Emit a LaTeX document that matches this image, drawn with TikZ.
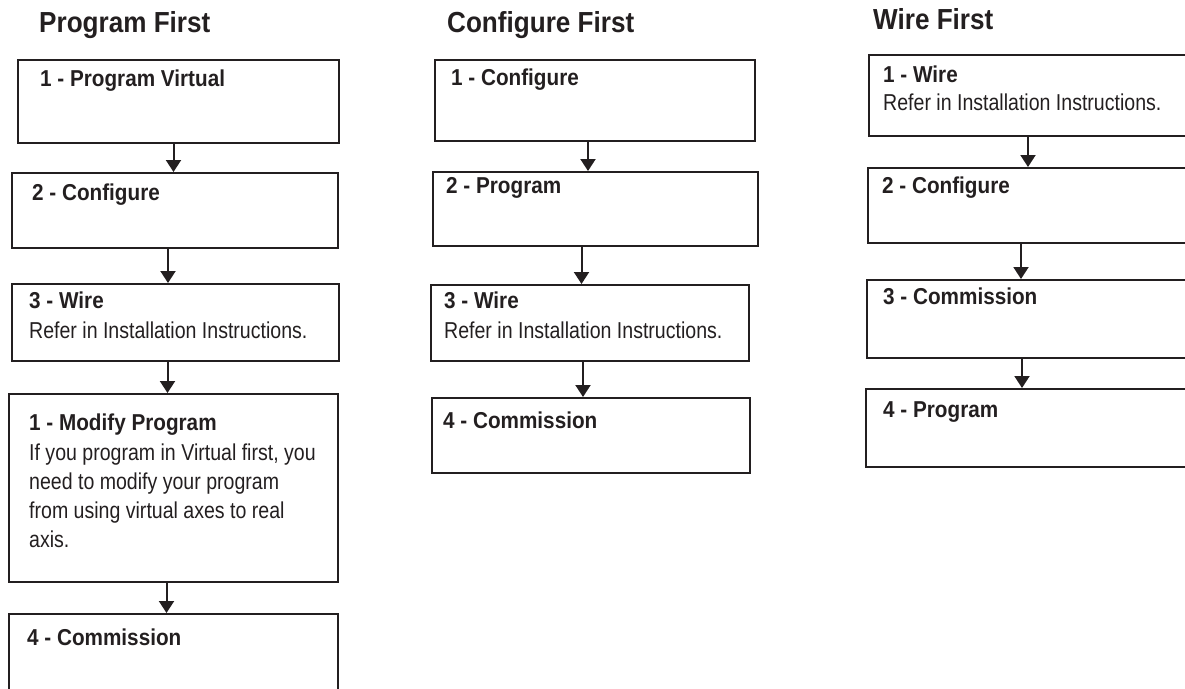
\documentclass[tikz,border=0pt]{standalone}
\usepackage{fontspec}
\setmainfont{Liberation Sans}[FakeStretch=0.85, BoldFeatures={FakeStretch=0.9}]
\usetikzlibrary{arrows.meta}
\definecolor{inkblack}{HTML}{231F20}

\tikzset{
  stepbox/.style={draw=inkblack, line width=2pt, anchor=north west, inner sep=0pt},
  steptitle/.style={anchor=base west, inner sep=0pt, text=inkblack,
    font=\fontsize{23}{27}\selectfont\bfseries},
  stepnote/.style={anchor=base west, inner sep=0pt, align=left, text=inkblack,
    font=\fontsize{23}{29}\selectfont},
  coltitle/.style={anchor=base west, inner sep=0pt, text=inkblack,
    font=\fontsize{29}{33}\selectfont\bfseries},
  flow/.style={-{Triangle[width=15pt,length=12pt]}, line width=2pt, draw=inkblack},
}

\begin{document}
\begin{tikzpicture}[x=1pt,y=-1pt]
  \useasboundingbox (0,0) rectangle (1185,688);

  % column headings
  \node[coltitle] (progfirst) at (39,32) {Program First};
  \node[coltitle] (conffirst) at (447,32) {Configure First};
  \node[coltitle] (wirefirst) at (873,29) {Wire First};

  % Program First
  \node[stepbox, minimum width=321, minimum height=83] (a1) at (17,59) {};
  \node[stepbox, minimum width=326, minimum height=75] (a2) at (11,172) {};
  \node[stepbox, minimum width=327, minimum height=77] (a3) at (11,283) {};
  \node[stepbox, minimum width=329, minimum height=188] (a4) at (8,393) {};
  \node[stepbox, minimum width=329, minimum height=90] (a5) at (8,613) {};
  \node[steptitle] (a1t) at ([shift={(23,27)}]a1.north west) {1 - Program Virtual};
  \node[steptitle] (a2t) at ([shift={(21,28)}]a2.north west) {2 - Configure};
  \node[steptitle] (a3t) at ([shift={(18,25)}]a3.north west) {3 - Wire};
  \node[stepnote] (a3n) at ([shift={(18,55)}]a3.north west) {Refer in Installation Instructions.};
  \node[steptitle] (a4t) at ([shift={(21,37)}]a4.north west) {1 - Modify Program};
  \node[stepnote] (a4n) at ([shift={(21,67)}]a4.north west)
    {\parbox[t]{310pt}{If you program in Virtual first, you\\need to modify your program\\from using virtual axes to real\\axis.}};
  \node[steptitle] (a5t) at ([shift={(19,32)}]a5.north west) {4 - Commission};

  \draw[flow] ([xshift=-5]a1.south) -- ([xshift=-5]a1.south |- a2.north);
  \draw[flow] ([xshift=-7]a2.south) -- ([xshift=-7]a2.south |- a3.north);
  \draw[flow] ([xshift=-8]a3.south) -- ([xshift=-8]a3.south |- a4.north);
  \draw[flow] ([xshift=-7]a4.south) -- ([xshift=-7]a4.south |- a5.north);

  % Configure First
  \node[stepbox, minimum width=320, minimum height=81] (b1) at (434,59) {};
  \node[stepbox, minimum width=325, minimum height=74] (b2) at (432,171) {};
  \node[stepbox, minimum width=318, minimum height=76] (b3) at (430,284) {};
  \node[stepbox, minimum width=318, minimum height=75] (b4) at (431,397) {};
  \node[steptitle] (b1t) at ([shift={(17,26)}]b1.north west) {1 - Configure};
  \node[steptitle] (b2t) at ([shift={(14,22)}]b2.north west) {2 - Program};
  \node[steptitle] (b3t) at ([shift={(14,24)}]b3.north west) {3 - Wire};
  \node[stepnote] (b3n) at ([shift={(14,54)}]b3.north west) {Refer in Installation Instructions.};
  \node[steptitle] (b4t) at ([shift={(12,31)}]b4.north west) {4 - Commission};

  \draw[flow] ([xshift=-7]b1.south) -- ([xshift=-7]b1.south |- b2.north);
  \draw[flow] ([xshift=-14]b2.south) -- ([xshift=-14]b2.south |- b3.north);
  \draw[flow] ([xshift=-7]b3.south) -- ([xshift=-7]b3.south |- b4.north);

  % Wire First (boxes run off the right edge)
  \node[stepbox, minimum width=322, minimum height=81] (c1) at (868,54) {};
  \node[stepbox, minimum width=323, minimum height=75] (c2) at (867,167) {};
  \node[stepbox, minimum width=324, minimum height=78] (c3) at (866,279) {};
  \node[stepbox, minimum width=325, minimum height=78] (c4) at (865,388) {};
  \node[steptitle] (c1t) at ([shift={(15,28)}]c1.north west) {1 - Wire};
  \node[stepnote] (c1n) at ([shift={(15,56)}]c1.north west) {Refer in Installation Instructions.};
  \node[steptitle] (c2t) at ([shift={(15,26)}]c2.north west) {2 - Configure};
  \node[steptitle] (c3t) at ([shift={(17,25)}]c3.north west) {3 - Commission};
  \node[steptitle] (c4t) at ([shift={(18,29)}]c4.north west) {4 - Program};

  \draw[flow] (c1.south west -| 1028,0) -- (c2.north west -| 1028,0);
  \draw[flow] (c2.south west -| 1021,0) -- (c3.north west -| 1021,0);
  \draw[flow] (c3.south west -| 1022,0) -- (c4.north west -| 1022,0);
\end{tikzpicture}
\end{document}
